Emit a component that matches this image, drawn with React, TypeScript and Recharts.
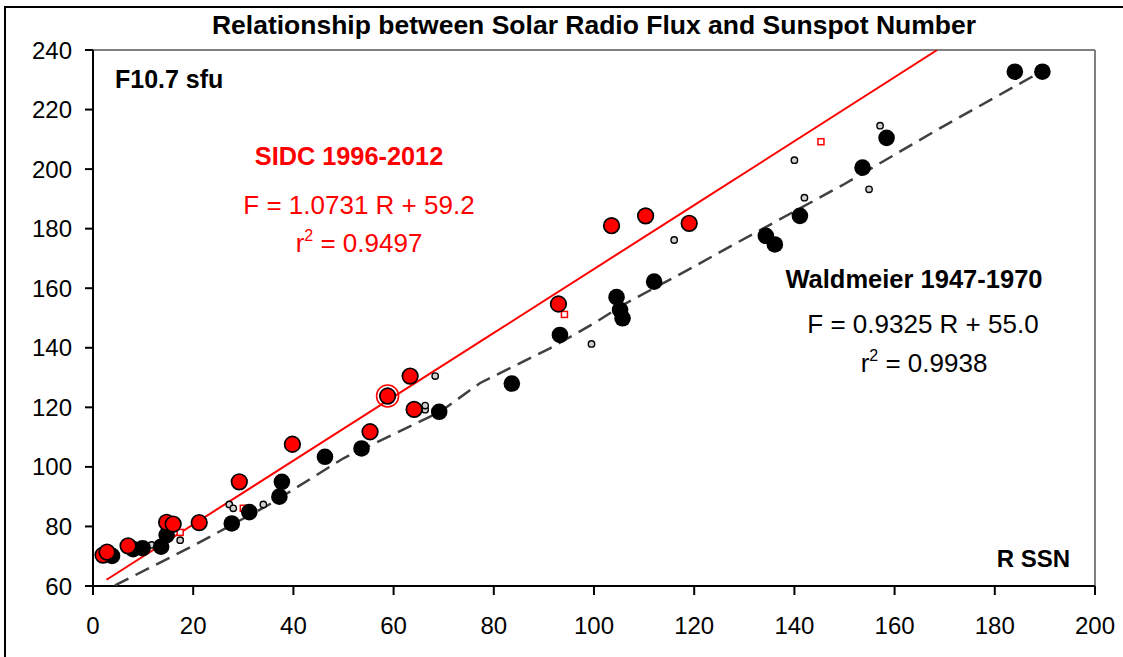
import React from 'react';
import { ComposedChart, Scatter, XAxis, YAxis, ReferenceLine } from 'recharts';

const xTicks = [0, 20, 40, 60, 80, 100, 120, 140, 160, 180, 200];
const yTicks = [60, 80, 100, 120, 140, 160, 180, 200, 220, 240];

// SIDC 1996-2012 (red filled circles)
const sidcR = [2.0, 2.8, 7.0, 14.7, 16.0, 21.2, 29.2, 39.8, 55.3, 58.8, 63.3, 64.1, 92.9, 103.5, 110.3, 119.0];
const sidcF = [70.4, 71.4, 73.5, 81.4, 80.8, 81.3, 95.0, 107.6, 111.8, 123.8, 130.5, 119.3, 154.7, 181.0, 184.3, 181.8];

// Waldmeier 1947-1970 (black filled circles)
const waldR = [3.8, 8.0, 9.9, 13.6, 14.7, 27.7, 31.2, 37.2, 37.7, 46.3, 53.6, 69.1, 83.6, 93.2, 104.5, 105.2, 105.7, 112.0, 134.3, 136.1, 141.1, 153.6, 158.4, 184.0, 189.5];
const waldF = [70.1, 72.4, 72.7, 73.2, 77.1, 81.0, 84.8, 90.0, 95.0, 103.4, 106.2, 118.5, 128.0, 144.3, 157.0, 152.7, 149.9, 162.2, 177.6, 174.7, 184.3, 200.5, 210.5, 232.7, 232.7];

// small open grey markers
const smallR = [11.7, 17.4, 27.2, 28.0, 34.0, 66.3, 66.3, 68.3, 99.5, 116.0, 140.0, 142.0, 154.9, 157.1];
const smallF = [73.8, 75.4, 87.4, 86.1, 87.4, 119.2, 120.6, 130.5, 141.3, 176.2, 203.0, 190.4, 193.2, 214.6];

// small open red squares
const sqR = [17.4, 30.0, 94.1, 145.3];
const sqF = [78.0, 86.1, 151.2, 209.2];

// highlighted point (ring)
const ringR = [58.8];
const ringF = [123.8];

// trend lines
const sidcFitR = [2.7, 40, 80, 120, 168.5];
const sidcFitF = [62.1, 102.1, 145.0, 187.9, 240];
const waldFitR = [4.4, 20, 35, 50, 69.3, 77.2, 91.2, 100, 105.8, 121.2, 126.5, 150, 169, 189];
const waldFitF = [60.2, 73.5, 87.2, 102.9, 118.5, 128.1, 139.8, 148.2, 154.4, 168.4, 173.4, 195.0, 213.7, 232.5];

const zip = (xs: number[], ys: number[]) => xs.map((x, i) => ({ x, y: ys[i] }));

const sidcData = zip(sidcR, sidcF);
const waldData = zip(waldR, waldF);
const smallData = zip(smallR, smallF);
const sqData = zip(sqR, sqF);
const ringData = zip(ringR, ringF);
const sidcFit = zip(sidcFitR, sidcFitF);
const waldFit = zip(waldFitR, waldFitF);

const FONT = '"Liberation Sans", Arial, sans-serif';

const RedDot = (p: any) => <circle cx={p.cx} cy={p.cy} r={7.8} fill="#FF0000" stroke="#000" strokeWidth={1.7} />;
const BlackDot = (p: any) => <circle cx={p.cx} cy={p.cy} r={8.3} fill="#000" />;
const SmallDot = (p: any) => <circle cx={p.cx} cy={p.cy} r={3.2} fill="#d0d0d0" stroke="#000" strokeWidth={1.4} />;
const SqDot = (p: any) => <rect x={p.cx - 3} y={p.cy - 3} width={6} height={6} fill="#fff" stroke="#FF0000" strokeWidth={1.5} />;
const Ring = (p: any) => <circle cx={p.cx} cy={p.cy} r={11} fill="none" stroke="#FF0000" strokeWidth={1.6} />;
const NoDot = () => <g />;

export default function App() {
  return (
    <div style={{ position: 'absolute', left: 0, top: 0, width: 1123, height: 657, overflow: 'hidden', background: '#fff', fontFamily: FONT }}>
      <div style={{ position: 'absolute', left: 4, top: 6, width: 1140, height: 680, border: '2px solid #000', boxSizing: 'border-box' }} />
      <div style={{ position: 'absolute', left: 0, top: 0 }}>
        <ComposedChart width={1123} height={657} margin={{ top: 50, right: 28, bottom: 0, left: 0 }}>
          <XAxis
            type="number"
            dataKey="x"
            domain={[0, 200]}
            ticks={xTicks}
            interval={0}
            height={71}
            axisLine={{ stroke: '#000', strokeWidth: 2 }}
            tickLine={{ stroke: '#000', strokeWidth: 2 }}
            tickSize={9}
            tickMargin={22}
            tick={{ fill: '#000', fontSize: 24, fontFamily: FONT }}
            allowDataOverflow
          />
          <YAxis
            type="number"
            dataKey="y"
            domain={[60, 240]}
            ticks={yTicks}
            interval={0}
            width={93}
            axisLine={{ stroke: '#000', strokeWidth: 2 }}
            tickLine={{ stroke: '#000', strokeWidth: 2 }}
            tickSize={8}
            tickMargin={13}
            tick={{ fill: '#000', fontSize: 24, fontFamily: FONT }}
            allowDataOverflow
          />
          <ReferenceLine y={240} stroke="#808080" strokeWidth={2} />
          <ReferenceLine x={200} stroke="#808080" strokeWidth={2} />
          <Scatter data={sidcFit} line={{ stroke: '#FF0000', strokeWidth: 2 }} shape={NoDot} isAnimationActive={false} />
          <Scatter data={waldFit} line={{ stroke: '#404040', strokeWidth: 2.5, strokeDasharray: '15 8' }} shape={NoDot} isAnimationActive={false} />
          <Scatter data={smallData} shape={SmallDot} isAnimationActive={false} />
          <Scatter data={sqData} shape={SqDot} isAnimationActive={false} />
          <Scatter data={waldData} shape={BlackDot} isAnimationActive={false} />
          <Scatter data={sidcData} shape={RedDot} isAnimationActive={false} />
          <Scatter data={ringData} shape={Ring} isAnimationActive={false} />
        </ComposedChart>
      </div>
      <svg width={1123} height={657} style={{ position: 'absolute', left: 0, top: 0, pointerEvents: 'none' }} fontFamily={FONT}>
        <text x={594} y={34} textAnchor="middle" fontSize={26.5} fontWeight="bold" fill="#000">Relationship between Solar Radio Flux and Sunspot Number</text>
        <text x={115} y={88} fontSize={25} fontWeight="bold" fill="#000">F10.7 sfu</text>
        <text x={349} y={165} textAnchor="middle" fontSize={25.3} fontWeight="bold" fill="#FF0000">SIDC 1996-2012</text>
        <text x={359} y={214} textAnchor="middle" fontSize={26} fill="#FF0000">F = 1.0731 R + 59.2</text>
        <text x={359} y={252} textAnchor="middle" fontSize={26} fill="#FF0000">r<tspan fontSize={16} dy={-11}>2</tspan><tspan dy={11}> = 0.9497</tspan></text>
        <text x={914} y={288} textAnchor="middle" fontSize={25.5} fontWeight="bold" fill="#000">Waldmeier 1947-1970</text>
        <text x={923} y={333} textAnchor="middle" fontSize={26} fill="#000">F = 0.9325 R + 55.0</text>
        <text x={924} y={372} textAnchor="middle" fontSize={26} fill="#000">r<tspan fontSize={16} dy={-11}>2</tspan><tspan dy={11}> = 0.9938</tspan></text>
        <text x={1070} y={567} textAnchor="end" fontSize={24} fontWeight="bold" fill="#000">R SSN</text>
      </svg>
    </div>
  );
}
